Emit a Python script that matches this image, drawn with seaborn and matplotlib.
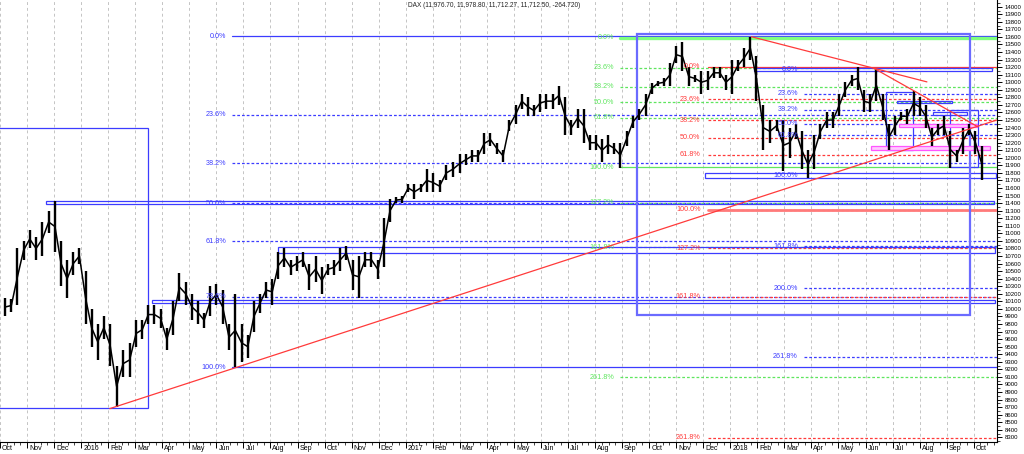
import numpy as np
import pandas as pd
import matplotlib
matplotlib.use("Agg")
import matplotlib.pyplot as plt
import matplotlib.transforms as mtrans
from matplotlib.patches import Rectangle
from matplotlib.ticker import MultipleLocator, FixedLocator
import seaborn as sns

sns.set_theme(style="white")
plt.rcParams['font.family'] = ['Liberation Sans', 'DejaVu Sans']

# ---------------- data (weekly low / high) ----------------
week_low = [
    9900, 9960, 10050, 10650, 10800, 10650, 10700, 11000, 10750, 10300, 10150, 10450,
    10600, 9800, 9500, 9330, 9600, 9250, 8700, 9100, 9100, 9500, 9600, 9800, 9800,
    9750, 9450, 9650, 10100, 10050, 9850, 9800, 9750, 9900, 10050, 9800, 9450, 9230,
    9300, 9350, 9700, 9950, 10150, 10050, 10400, 10550, 10450, 10500, 10550, 10250,
    10350, 10200, 10450, 10450, 10500, 10650, 10250, 10150, 10550, 10550, 10400, 10550,
    11150, 11400, 11400,
    11550, 11450, 11550, 11550, 11550, 11550, 11700, 11750, 11800, 11900, 11950, 11950,
    12050, 12150, 12050, 11950, 12350, 12450, 12650, 12550, 12550, 12600, 12650, 12650,
    12700, 12300, 12300, 12400, 12200, 12100, 12100, 11950, 12050, 12050, 11870, 12150,
    12400, 12500, 12550, 12850, 12950, 12950, 12950, 13250, 13150, 12950, 13000, 12850,
    12900, 13050, 13050, 12900,
    12850, 13150, 13200, 13300, 12750, 12100, 12200, 12350, 11830, 12000, 12250, 11850,
    11730, 11850, 12250, 12400, 12400, 12550, 12800, 12950, 12900, 12600, 12600, 12750,
    12500, 12100, 12300, 12500, 12450, 12550, 12550, 12400, 12150, 12300, 12300, 11870,
    11950, 12050, 12300, 12050, 11710,
]
week_high = [
    10150, 10130, 10800, 10900, 11050, 10950, 11150, 11300, 11430, 10900, 10650, 10750,
    10800, 10500, 10000, 9800, 9900, 9800, 9250, 9450, 9550, 9850, 9850, 10050, 10050,
    10000, 9750, 10100, 10480, 10350, 10200, 10100, 9950, 10300, 10330, 10250, 9800, 10200,
    9800, 9650, 10100, 10200, 10350, 10400, 10750, 10800, 10650, 10700, 10750, 10600,
    10700, 10550, 10600, 10650, 10800, 10830, 10650, 10700, 10750, 10750, 10650, 11200,
    11450, 11480, 11500,
    11650, 11650, 11650, 11850, 11800, 11700, 11900, 11950, 12050, 12050, 12100, 12100,
    12330, 12330, 12200, 12100, 12500, 12700, 12850, 12800, 12700, 12850, 12850, 12850,
    12950, 12800, 12500, 12650, 12650, 12300, 12300, 12250, 12300, 12200, 12200, 12350,
    12550, 12650, 12850, 12990, 13020, 13050, 13250, 13480, 13530, 13200, 13100, 13150,
    13150, 13200, 13200, 13100,
    13300, 13300, 13450, 13600, 13350, 12700, 12500, 12500, 12500, 12400, 12450, 12350,
    12100, 12300, 12450, 12600, 12600, 12850, 13000, 13100, 13200, 12900, 12850, 13170,
    12850, 12450, 12550, 12600, 12650, 12890, 12800, 12700, 12400, 12450, 12550, 12350,
    12100, 12400, 12450, 12350, 12150,
]
week_dates = pd.date_range("2015-10-07", periods=len(week_low), freq="W-WED")

month_labels = ["Oct", "Nov", "Dec", "2016", "Feb", "Mar", "Apr", "May", "Jun", "Jul",
                "Aug", "Sep", "Oct", "Nov", "Dec", "2017", "Feb", "Mar", "Apr", "May",
                "Jun", "Jul", "Aug", "Sep", "Oct", "Nov", "Dec", "2018", "Feb", "Mar",
                "Apr", "May", "Jun", "Jul", "Aug", "Sep", "Oct"]

title_text = "DAX (11,976.70, 11,978.80, 11,712.27, 11,712.50, -264.720)"

# Fibonacci sets (levels)
fibA_labels = ["0.0%", "23.6%", "38.2%", "50.0%", "61.8%", "78.6%", "100.0%"]
fibA_levels = [13607, 12568, 11927, 11400, 10893, 10163, 9226]
fibB_labels = ["0.0%", "23.6%", "38.2%", "50.0%", "61.8%", "100.0%", "127.2%", "161.8%", "261.8%"]
fibB_levels = [13592, 13191, 12939, 12736, 12533, 11878, 11406, 10817, 9093]
fibC_labels = ["0.0%", "23.6%", "38.2%", "50.0%", "61.8%", "100.0%", "127.2%", "161.8%", "261.8%"]
fibC_levels = [13204, 12772, 12497, 12268, 12042, 11313, 10804, 10163, 8297]
fibD_labels = ["0.0%", "23.6%", "38.2%", "50.0%", "61.8%", "100.0%", "161.8%", "200.0%", "261.8%"]
fibD_levels = [13170, 12851, 12639, 12454, 12298, 11770, 10826, 10273, 9368]

# zones: (start month, end month, low, high)
blue_zones = [
    (-1.0, 5.47, 8690, 12400),
    (1.70, 36.75, 11385, 11430),
    (10.28, 36.78, 10745, 10825),
    (5.62, 36.80, 10082, 10120),
    (27.88, 36.67, 13147, 13191),
    (26.05, 36.82, 11737, 11804),
    (32.74, 33.77, 12109, 12873),
    (35.13, 36.16, 11878, 12639),
    (33.18, 35.20, 12719, 12749),
    (34.50, 35.76, 12568, 12600),
]
big_zone = (23.56, 35.86, 9915, 13642)
pink_zones = [
    (33.22, 36.12, 12408, 12453),
    (32.19, 36.60, 12109, 12153),
]
# trend lines: (m0, v0, m1, v1)
trend_lines = [
    (4.06, 8680, 36.85, 12500),
    (27.78, 13603, 34.27, 13005),
    (32.30, 13187, 36.16, 12409),
]


def month_coord(d):
    return (d.year - 2015) * 12 + (d.month - 10) + (d.day - 1) / d.days_in_month


wx = np.array([month_coord(d) for d in week_dates])
lo = np.array(week_low, dtype=float)
hi = np.array(week_high, dtype=float)

BLUE = "#3c3cff"
GREEN = "#5ee65e"
RED = "#ff3a3a"
DASH = (0, (2.2, 1.6))

fig = plt.figure(figsize=(10.24, 4.54), dpi=100)
H = 441.7 / 454
ax = fig.add_axes([0, 1 - H, 996.7 / 1024, H])
XMIN, XMAX = 0.2, 36.85
ax.set_xlim(XMIN, XMAX)
ax.set_ylim(8242, 14089)

# grid
ax.set_xticks(range(0, 37))
ax.grid(axis="x", which="major", color="#c4c4c4", ls=(0, (3, 3)), lw=0.7)
ax.grid(axis="y", visible=False)

# price bars
ax.vlines(wx, lo, hi, color="black", lw=1.7, zorder=5)
sns.lineplot(x=wx, y=(lo + hi) / 2, ax=ax, color="black", lw=1.1, zorder=5)


def fib(levels, labels, start, lab_end, color, solid_idx, skip_idx=(), lw_solid=0.9):
    for i, (lv, lb) in enumerate(zip(levels, labels)):
        if i not in skip_idx:
            if i in solid_idx:
                ax.plot([start, XMAX], [lv, lv], color=color, lw=lw_solid, zorder=3)
            else:
                ax.plot([start, XMAX], [lv, lv], color=color, lw=0.9, ls=DASH, zorder=3)
        ax.text(lab_end, lv, lb, color=color, fontsize=5.2, ha="right", va="center", zorder=6)


fib(fibA_levels, fibA_labels, 8.58, 8.37, BLUE, solid_idx=(0, 6))
fib(fibB_levels, fibB_labels, 22.92, 22.70, GREEN, solid_idx=(5,))
ax.plot([22.92, XMAX], [fibB_levels[0], fibB_levels[0]], color="#7fff7f", lw=2.4, zorder=3)
fib(fibC_levels, fibC_labels, 26.16, 25.90, RED, solid_idx=(0,))
ax.plot([26.16, XMAX], [fibC_levels[5], fibC_levels[5]], color="#ff7a7a", lw=2.0, zorder=3)
fib(fibD_levels, fibD_labels, 29.72, 29.50, BLUE, solid_idx=(), skip_idx=(0, 5))

for (m0, m1, v0, v1) in blue_zones:
    ax.add_patch(Rectangle((m0, v0), m1 - m0, v1 - v0, fill=False, ec=BLUE, lw=0.9, zorder=4))
m0, m1, v0, v1 = big_zone
ax.add_patch(Rectangle((m0, v0), m1 - m0, v1 - v0, fill=False, ec="#6b6bff", lw=1.6, zorder=4))
for (m0, m1, v0, v1) in pink_zones:
    ax.add_patch(Rectangle((m0, v0), m1 - m0, v1 - v0, fc="#ffc8ff", ec="#ff55ff", lw=0.9, zorder=4))
for (m0, v0, m1, v1) in trend_lines:
    ax.plot([m0, m1], [v0, v1], color=RED, lw=0.9, zorder=6)

# axes styling
for s in ["top", "left"]:
    ax.spines[s].set_visible(False)
for s in ["right", "bottom"]:
    ax.spines[s].set_visible(True)
    ax.spines[s].set_color("black")
    ax.spines[s].set_linewidth(0.8)

ax.yaxis.tick_right()
ax.yaxis.set_major_locator(FixedLocator(list(range(8300, 14001, 100))))
ax.yaxis.set_minor_locator(MultipleLocator(50))
ax.tick_params(axis="y", which="major", length=3.5, width=0.7, labelsize=4.3, pad=2.5, colors="black")
ax.tick_params(axis="y", which="minor", length=2, width=0.6, right=True)

ax.set_xticklabels(month_labels)
ax.xaxis.set_minor_locator(MultipleLocator(0.25))
ax.tick_params(axis="x", which="major", length=4, width=0.7, labelsize=5.0, pad=-1.8, colors="black", bottom=True)
ax.tick_params(axis="x", which="minor", length=2.2, width=0.6, bottom=True)
off = mtrans.ScaledTranslation(2.0 / 100, 0, fig.dpi_scale_trans)
for lbl in ax.get_xticklabels():
    lbl.set_ha("left")
    lbl.set_transform(lbl.get_transform() + off)
ax.set_xlabel("")
ax.set_ylabel("")

fig.text(408 / 1024, 1 - 5.5 / 454, title_text, fontsize=4.7, ha="left", va="center", color="#222222")

fig.savefig("out.png", dpi=100)
